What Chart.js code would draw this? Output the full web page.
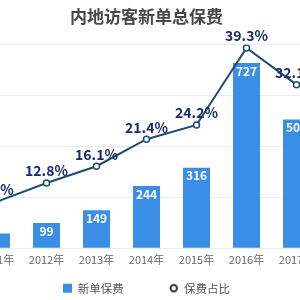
<!DOCTYPE html>
<html>
<head>
<meta charset="utf-8">
<script src="https://cdn.jsdelivr.net/npm/chart.js@4.4.0/dist/chart.umd.min.js"></script>
<title>内地访客新单总保费</title>
<style>
  html, body { margin: 0; padding: 0; background: #fff; overflow: hidden; width: 300px; height: 300px; }
  #wrap { position: absolute; left: -34px; top: 0; width: 361px; height: 304px; }
</style>
</head>
<body>
<div id="wrap"><canvas id="myChart"></canvas></div>
<script>
const years = ['2011年', '2012年', '2013年', '2014年', '2015年', '2016年', '2017年'];
const premium = [58, 99, 149, 244, 316, 727, 505];      // 新单保费
const share = [9.1, 12.8, 16.1, 21.4, 24.2, 39.3, 32.1]; // 保费占比 (%)

const barColor = '#3a8ee6';
const lineColor = '#1e4d6d';

Chart.defaults.font.family = '"Noto Sans CJK SC", "Noto Sans", sans-serif';

// small ring used as the legend marker of the line
const ring = document.createElement('canvas');
ring.width = 10; ring.height = 10;
const rc = ring.getContext('2d');
rc.beginPath();
rc.arc(5, 5, 3.2, 0, Math.PI * 2);
rc.fillStyle = '#fff';
rc.fill();
rc.lineWidth = 2;
rc.strokeStyle = '#333';
rc.stroke();

// value labels
const valueLabels = {
  id: 'valueLabels',
  afterDatasetsDraw(chart) {
    const ctx = chart.ctx;
    ctx.save();
    ctx.textAlign = 'center';
    ctx.textBaseline = 'middle';
    chart.getDatasetMeta(0).data.forEach((el, i) => {
      if (el.base - el.y < 20) return; // too short for a label
      ctx.fillStyle = '#fff';
      ctx.font = 'bold 12px "Noto Sans CJK SC"';
      ctx.fillText(premium[i], el.x, el.y + 8);
    });
    chart.getDatasetMeta(1).data.forEach((el, i) => {
      ctx.fillStyle = '#1c2a6b';
      ctx.font = 'bold 14px "Noto Sans CJK SC"';
      ctx.fillText(share[i].toFixed(1) + '%', el.x, el.y - 12);
    });
    ctx.restore();
  }
};

new Chart(document.getElementById('myChart'), {
  type: 'bar',
  data: {
    labels: years,
    datasets: [{
      label: '新单保费',
      data: premium,
      backgroundColor: barColor,
      borderWidth: 0,
      yAxisID: 'y',
      order: 1,
      pointStyle: 'rect',
      barPercentage: 0.54,
      categoryPercentage: 1
    }, {
      type: 'line',
      label: '保费占比',
      data: share,
      borderColor: lineColor,
      borderWidth: 2,
      backgroundColor: '#fff',
      pointBackgroundColor: '#fff',
      pointBorderColor: lineColor,
      pointBorderWidth: 1.5,
      pointRadius: 3,
      tension: 0,
      yAxisID: 'y1',
      order: 0
    }]
  },
  options: {
    responsive: true,
    maintainAspectRatio: false,
    animation: false,
    layout: { padding: 0 },
    plugins: {
      title: {
        display: true,
        text: '内地访客新单总保费',
        color: '#474747',
        font: { size: 17, weight: 'bold' },
        padding: { top: 6, bottom: 18 }
      },
      legend: {
        position: 'bottom',
        labels: {
          usePointStyle: true,
          boxWidth: 9,
          boxHeight: 9,
          padding: 11,
          color: '#555',
          font: { size: 11.5 },
          generateLabels(chart) {
            const items = Chart.defaults.plugins.legend.labels.generateLabels(chart);
            items.sort((a, b) => a.datasetIndex - b.datasetIndex);
            items.forEach(it => {
              if (it.datasetIndex === 0) {
                it.text = '新单保费\u3000\u3000\u3000';
              } else {
                it.pointStyle = ring;
              }
            });
            return items;
          }
        }
      },
      tooltip: { enabled: false }
    },
    scales: {
      x: {
        grid: { display: false, drawTicks: false },
        border: { display: false },
        ticks: { color: '#666', font: { size: 11 }, padding: 5 }
      },
      y: {
        min: 0,
        max: 800,
        ticks: { display: false, stepSize: 200 },
        grid: { color: '#ececec', drawTicks: false },
        border: { display: false }
      },
      y1: {
        display: false,
        min: 0,
        max: 40
      }
    }
  },
  plugins: [valueLabels]
});
</script>
</body>
</html>
